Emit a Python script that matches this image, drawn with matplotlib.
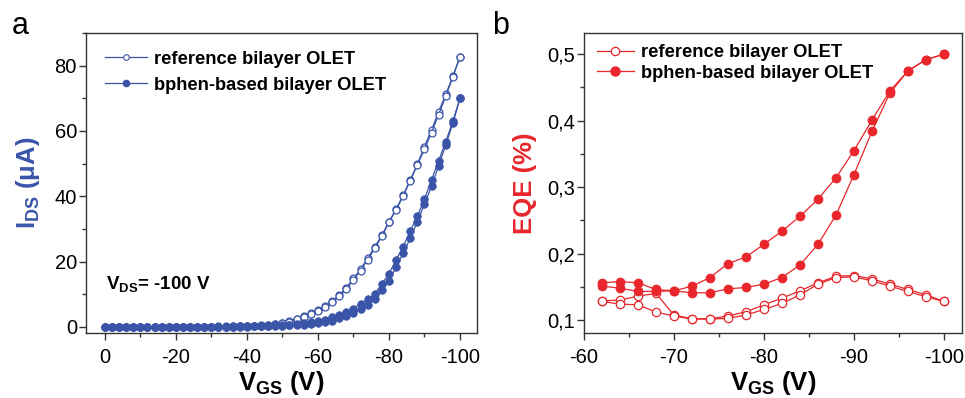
import matplotlib
matplotlib.use("Agg")
import matplotlib.pyplot as plt
from matplotlib.ticker import FixedLocator, MultipleLocator, FixedFormatter
from matplotlib.lines import Line2D

plt.rcParams['font.family'] = ['Liberation Sans', 'DejaVu Sans']
plt.rcParams['mathtext.fontset'] = 'custom'
plt.rcParams['mathtext.rm'] = 'Liberation Sans'
plt.rcParams['mathtext.bf'] = 'Liberation Sans:bold'
plt.rcParams['mathtext.it'] = 'Liberation Sans:italic'

# ---------------- Panel a data ----------------
vgs_a = [0, -2, -4, -6, -8, -10, -12, -14, -16, -18, -20, -22, -24, -26, -28, -30,
         -32, -34, -36, -38, -40, -42, -44, -46, -48, -50, -52, -54, -56, -58, -60,
         -62, -64, -66, -68, -70, -72, -74, -76, -78, -80, -82, -84, -86, -88, -90,
         -92, -94, -96, -98, -100]
ref_fwd = [0.0, 0.0, 0.0, 0.0, 0.0, 0.0, 0.0, 0.0, 0.0, 0.0, 0.0, 0.0, 0.0, 0.0,
           0.05, 0.05, 0.1, 0.1, 0.1, 0.15, 0.2, 0.3, 0.4, 0.6, 0.9, 1.3, 1.8, 2.5,
           3.2, 4.1, 5.1, 6.3, 7.9, 9.6, 12.0, 14.8, 17.6, 21.0, 24.5, 28.0, 32.2,
           36.0, 40.3, 45.0, 49.8, 55.2, 60.3, 65.9, 71.2, 76.8, 82.7]
ref_bwd = [0.0, 0.0, 0.0, 0.0, 0.0, 0.0, 0.0, 0.0, 0.0, 0.0, 0.0, 0.0, 0.0, 0.0,
           0.0, 0.05, 0.05, 0.05, 0.1, 0.1, 0.15, 0.25, 0.35, 0.5, 0.8, 1.1, 1.6,
           2.3, 3.0, 3.9, 4.9, 6.0, 7.6, 9.3, 11.5, 14.4, 17.2, 20.6, 24.0, 27.7,
           32.0, 35.8, 40.0, 44.8, 49.5, 54.4, 59.5, 65.0, 70.6, 76.5, 82.7]
bph_fwd = [0.0, 0.0, 0.0, 0.0, 0.0, 0.0, 0.0, 0.0, 0.0, 0.0, 0.0, 0.0, 0.0, 0.0,
           0.0, 0.0, 0.05, 0.05, 0.05, 0.1, 0.1, 0.15, 0.2, 0.3, 0.4, 0.5, 0.7,
           0.9, 1.1, 1.4, 1.8, 2.2, 2.9, 3.6, 4.4, 5.6, 7.0, 8.4, 10.0, 13.1, 16.3,
           20.4, 24.5, 29.3, 33.9, 39.1, 45.0, 50.9, 56.7, 63.0, 70.0]
bph_bwd = [0.0, 0.0, 0.0, 0.0, 0.0, 0.0, 0.0, 0.0, 0.0, 0.0, 0.0, 0.0, 0.0, 0.0,
           0.0, 0.0, 0.0, 0.0, 0.05, 0.05, 0.05, 0.1, 0.1, 0.15, 0.2, 0.3, 0.4,
           0.5, 0.7, 0.9, 1.2, 1.4, 1.8, 2.6, 3.4, 4.1, 5.3, 6.6, 8.4, 11.2, 14.1,
           18.2, 22.5, 27.1, 32.2, 37.6, 43.0, 49.3, 55.7, 62.3, 70.0]

# ---------------- Panel b data ----------------
vgs_b = [-62, -64, -66, -68, -70, -72, -74, -76, -78, -80, -82, -84, -86, -88,
         -90, -92, -94, -96, -98, -100]
eqe_ref_up = [0.129, 0.130, 0.136, 0.140, 0.1075, 0.102, 0.102, 0.106, 0.1125,
              0.123, 0.133, 0.144, 0.156, 0.166, 0.167, 0.162, 0.154, 0.146,
              0.138, 0.128]
eqe_ref_dn = [0.128, 0.124, 0.123, 0.112, 0.106, 0.1015, 0.1015, 0.1025, 0.1075,
              0.116, 0.125, 0.138, 0.154, 0.164, 0.165, 0.159, 0.151, 0.143,
              0.135, 0.128]
eqe_bph_up = [0.156, 0.158, 0.156, 0.146, 0.144, 0.151, 0.164, 0.185, 0.195,
              0.214, 0.234, 0.256, 0.282, 0.314, 0.355, 0.401, 0.445, 0.475,
              0.492, 0.500]
eqe_bph_dn = [0.151, 0.148, 0.143, 0.143, 0.144, 0.141, 0.141, 0.147, 0.149,
              0.154, 0.164, 0.183, 0.214, 0.258, 0.319, 0.384, 0.442, 0.475,
              0.492, 0.500]

xticks_a = [0, -20, -40, -60, -80, -100]
xtlab_a = ['0', '-20', '-40', '-60', '-80', '-100']
yticks_a = [0, 20, 40, 60, 80]
ytlab_a = ['0', '20', '40', '60', '80']
xticks_b = [-60, -70, -80, -90, -100]
xtlab_b = ['-60', '-70', '-80', '-90', '-100']
yticks_b = [0.1, 0.2, 0.3, 0.4, 0.5]
ytlab_b = ['0,1', '0,2', '0,3', '0,4', '0,5']

BLUE = '#3a55a8'
RED = '#e8262b'
SPINE = '#333333'

fig = plt.figure(figsize=(9.65, 3.98), dpi=100)
W, H = 965, 398
axa = fig.add_axes([86 / W, 1 - 333 / H, (477 - 86) / W, 300 / H])
axb = fig.add_axes([584 / W, 1 - 333 / H, (962 - 584) / W, 300 / H])


def style(ax):
    for s in ax.spines.values():
        s.set_color(SPINE)
        s.set_linewidth(1.0)
    ax.tick_params(which='major', direction='out', length=5, width=1.0,
                   color=SPINE, labelsize=14.5, pad=1.5, top=False, right=False)
    ax.tick_params(which='minor', direction='out', length=3, width=1.0,
                   color=SPINE, top=False, right=False)
    ax.tick_params(axis='x', which='major', pad=6)


# ---- panel a ----
lw = 0.9
axa.plot(vgs_a, ref_fwd, '-', color=BLUE, lw=lw, marker='o', ms=5,
         mfc='white', mec=BLUE, mew=0.9)
axa.plot(vgs_a, ref_bwd, '-', color=BLUE, lw=lw, marker='o', ms=5,
         mfc='white', mec=BLUE, mew=0.9)
axa.plot(vgs_a, bph_fwd, '-', color=BLUE, lw=lw, marker='o', ms=5.5,
         mfc=BLUE, mec=BLUE, mew=0.5)
axa.plot(vgs_a, bph_bwd, '-', color=BLUE, lw=lw, marker='o', ms=5.5,
         mfc=BLUE, mec=BLUE, mew=0.5)
axa.set_xlim(5.3, -104.8)
axa.set_ylim(-1.9, 90)
style(axa)
axa.xaxis.set_major_locator(FixedLocator(xticks_a))
axa.xaxis.set_major_formatter(FixedFormatter(xtlab_a))
axa.xaxis.set_minor_locator(MultipleLocator(10))
axa.yaxis.set_major_locator(FixedLocator(yticks_a))
axa.yaxis.set_major_formatter(FixedFormatter(ytlab_a))
axa.yaxis.set_minor_locator(MultipleLocator(10))
axa.set_xlabel(r'$\mathbf{V_{GS}}$ (V)', fontsize=18.5, fontweight='bold', labelpad=1)
axa.set_ylabel(r'$\mathbf{I_{DS}}$ (μA)', fontsize=18.5, fontweight='bold',
               color=BLUE, labelpad=9)
ha = [Line2D([], [], color=BLUE, lw=lw, marker='o', ms=4, mfc='white', mec=BLUE, mew=0.8),
      Line2D([], [], color=BLUE, lw=lw, marker='o', ms=4.5, mfc=BLUE, mec=BLUE)]
axa.legend(ha, ['reference bilayer OLET', 'bphen-based bilayer OLET'],
           loc='upper left', bbox_to_anchor=(0.02, 0.978), frameon=False,
           prop={'weight': 'bold', 'size': 13.2}, handlelength=2.3,
           handletextpad=0.4, labelspacing=0.5, borderaxespad=0.2)
axa.text(0.05, 0.145, r'$\mathbf{V_{DS}}$= -100 V', transform=axa.transAxes,
         fontsize=13.5, fontweight='bold', ha='left', va='baseline')

# ---- panel b ----
axb.plot(vgs_b, eqe_ref_up, '-', color=RED, lw=lw, marker='o', ms=6,
         mfc='white', mec=RED, mew=0.9)
axb.plot(vgs_b, eqe_ref_dn, '-', color=RED, lw=lw, marker='o', ms=6,
         mfc='white', mec=RED, mew=0.9)
axb.plot(vgs_b, eqe_bph_up, '-', color=RED, lw=lw, marker='o', ms=6.5,
         mfc=RED, mec=RED, mew=0.5)
axb.plot(vgs_b, eqe_bph_dn, '-', color=RED, lw=lw, marker='o', ms=6.5,
         mfc=RED, mec=RED, mew=0.5)
axb.set_xlim(-60, -102.0)
axb.set_ylim(0.0805, 0.532)
style(axb)
axb.xaxis.set_major_locator(FixedLocator(xticks_b))
axb.xaxis.set_major_formatter(FixedFormatter(xtlab_b))
axb.xaxis.set_minor_locator(MultipleLocator(5))
axb.yaxis.set_major_locator(FixedLocator(yticks_b))
axb.yaxis.set_major_formatter(FixedFormatter(ytlab_b))
axb.yaxis.set_minor_locator(MultipleLocator(0.05))
axb.set_xlabel(r'$\mathbf{V_{GS}}$ (V)', fontsize=18.5, fontweight='bold', labelpad=1)
axb.set_ylabel('EQE (%)', fontsize=18.5, fontweight='bold', color=RED, labelpad=7)
hb = [Line2D([], [], color=RED, lw=lw, marker='o', ms=6, mfc='white', mec=RED, mew=0.9),
      Line2D([], [], color=RED, lw=lw, marker='o', ms=6.5, mfc=RED, mec=RED)]
axb.legend(hb, ['reference bilayer OLET', 'bphen-based bilayer OLET'],
           loc='upper left', bbox_to_anchor=(0.005, 1.0), frameon=False,
           prop={'weight': 'bold', 'size': 13.2}, handlelength=2.0,
           handletextpad=0.4, labelspacing=0.2, borderaxespad=0.2)

fig.text(12 / W, 1 - 34 / H, 'a', fontsize=22, ha='left', va='baseline')
fig.text(492 / W, 1 - 34 / H, 'b', fontsize=22, ha='left', va='baseline')

fig.savefig('out.png', dpi=100)
